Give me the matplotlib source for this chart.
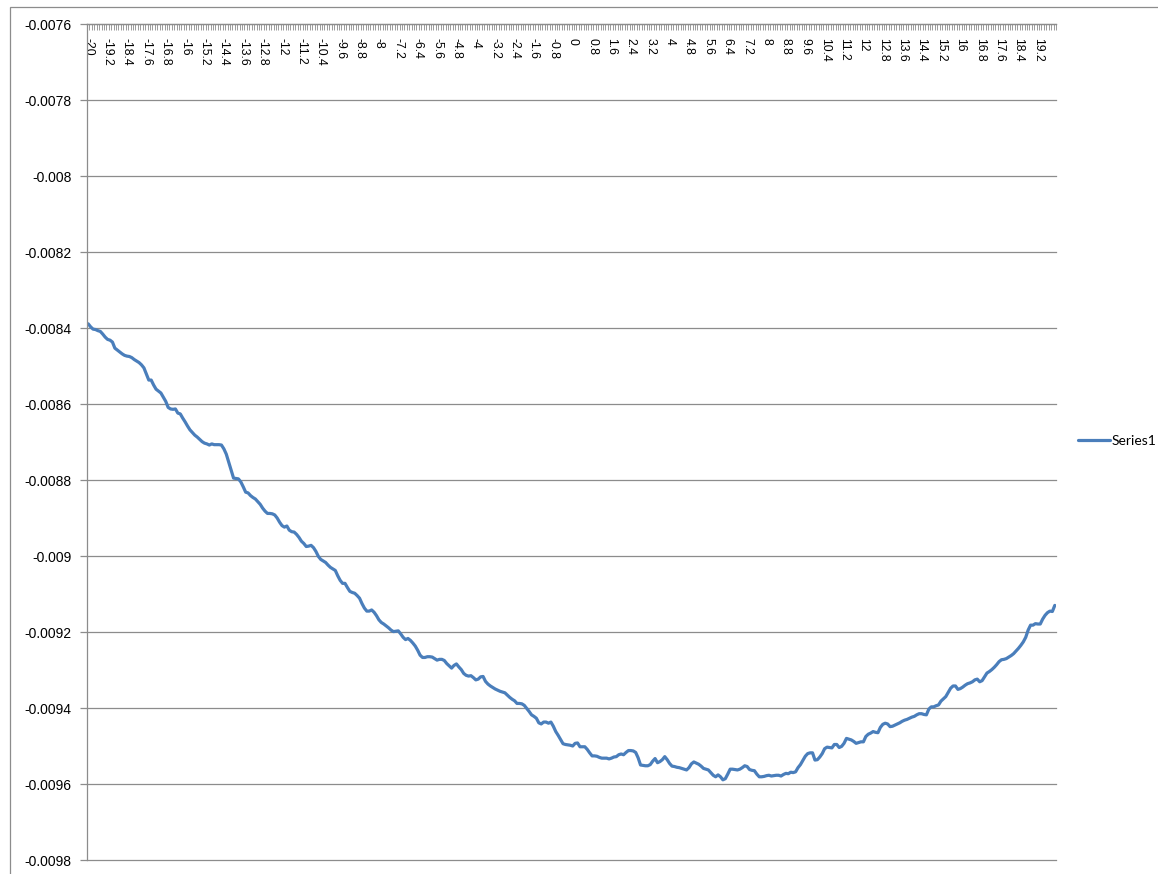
import numpy as np
import matplotlib
matplotlib.use('Agg')
import matplotlib.pyplot as plt
from matplotlib.patches import Rectangle

# Category axis: -20 .. 19.9 in steps of 0.1, label on every 8th category
categories = np.round(np.arange(-20, 20, 0.1), 1)
label_every = 8

y_ticks = [-0.0098, -0.0096, -0.0094, -0.0092, -0.009, -0.0088, -0.0086,
           -0.0084, -0.0082, -0.008, -0.0078, -0.0076]
y_tick_labels = ['-0.0098', '-0.0096', '-0.0094', '-0.0092', '-0.009', '-0.0088',
                 '-0.0086', '-0.0084', '-0.0082', '-0.008', '-0.0078', '-0.0076']

# Series1 values
series1 = [
    -0.008389, -0.008397, -0.008403, -0.008404, -0.008407, -0.008409, -0.008416, -0.008424, -0.008430, -0.008432,
    -0.008437, -0.008453, -0.008458, -0.008463, -0.008468, -0.008472, -0.008474, -0.008475, -0.008478, -0.008483,
    -0.008487, -0.008491, -0.008497, -0.008505, -0.008521, -0.008537, -0.008537, -0.008550, -0.008561, -0.008566,
    -0.008571, -0.008582, -0.008593, -0.008609, -0.008613, -0.008614, -0.008613, -0.008624, -0.008626, -0.008637,
    -0.008647, -0.008658, -0.008668, -0.008675, -0.008682, -0.008687, -0.008693, -0.008699, -0.008703, -0.008705,
    -0.008708, -0.008705, -0.008707, -0.008707, -0.008707, -0.008708, -0.008718, -0.008732, -0.008753, -0.008774,
    -0.008795, -0.008796, -0.008797, -0.008805, -0.008818, -0.008832, -0.008834, -0.008841, -0.008846, -0.008850,
    -0.008857, -0.008864, -0.008874, -0.008882, -0.008888, -0.008888, -0.008889, -0.008892, -0.008900, -0.008911,
    -0.008920, -0.008924, -0.008921, -0.008932, -0.008936, -0.008937, -0.008943, -0.008951, -0.008961, -0.008967,
    -0.008975, -0.008974, -0.008972, -0.008978, -0.008988, -0.009001, -0.009009, -0.009013, -0.009017, -0.009024,
    -0.009030, -0.009034, -0.009038, -0.009052, -0.009064, -0.009072, -0.009072, -0.009083, -0.009093, -0.009096,
    -0.009098, -0.009104, -0.009111, -0.009125, -0.009137, -0.009145, -0.009145, -0.009142, -0.009148, -0.009157,
    -0.009168, -0.009175, -0.009179, -0.009184, -0.009189, -0.009195, -0.009199, -0.009198, -0.009197, -0.009205,
    -0.009214, -0.009220, -0.009217, -0.009222, -0.009229, -0.009237, -0.009248, -0.009261, -0.009267, -0.009267,
    -0.009265, -0.009265, -0.009266, -0.009270, -0.009274, -0.009272, -0.009272, -0.009275, -0.009283, -0.009289,
    -0.009295, -0.009288, -0.009284, -0.009292, -0.009299, -0.009309, -0.009314, -0.009316, -0.009315, -0.009320,
    -0.009326, -0.009324, -0.009318, -0.009317, -0.009330, -0.009337, -0.009342, -0.009346, -0.009350, -0.009353,
    -0.009356, -0.009358, -0.009360, -0.009366, -0.009372, -0.009377, -0.009381, -0.009388, -0.009388, -0.009389,
    -0.009393, -0.009401, -0.009409, -0.009418, -0.009422, -0.009427, -0.009439, -0.009442, -0.009437, -0.009437,
    -0.009440, -0.009437, -0.009448, -0.009462, -0.009472, -0.009483, -0.009494, -0.009496, -0.009497, -0.009498,
    -0.009500, -0.009493, -0.009492, -0.009502, -0.009502, -0.009502, -0.009509, -0.009518, -0.009526, -0.009526,
    -0.009527, -0.009530, -0.009532, -0.009532, -0.009532, -0.009534, -0.009532, -0.009529, -0.009528, -0.009523,
    -0.009521, -0.009523, -0.009517, -0.009512, -0.009512, -0.009513, -0.009517, -0.009531, -0.009550, -0.009551,
    -0.009552, -0.009552, -0.009549, -0.009540, -0.009533, -0.009544, -0.009541, -0.009536, -0.009528, -0.009536,
    -0.009546, -0.009553, -0.009554, -0.009556, -0.009557, -0.009559, -0.009561, -0.009563, -0.009557, -0.009547,
    -0.009542, -0.009545, -0.009548, -0.009553, -0.009559, -0.009561, -0.009563, -0.009570, -0.009577, -0.009581,
    -0.009576, -0.009581, -0.009589, -0.009586, -0.009574, -0.009561, -0.009561, -0.009562, -0.009563, -0.009561,
    -0.009557, -0.009552, -0.009554, -0.009562, -0.009564, -0.009565, -0.009574, -0.009581, -0.009581, -0.009580,
    -0.009578, -0.009577, -0.009579, -0.009578, -0.009577, -0.009577, -0.009579, -0.009575, -0.009572, -0.009573,
    -0.009569, -0.009570, -0.009568, -0.009557, -0.009549, -0.009538, -0.009527, -0.009520, -0.009518, -0.009518,
    -0.009537, -0.009536, -0.009529, -0.009520, -0.009507, -0.009503, -0.009504, -0.009505, -0.009496, -0.009496,
    -0.009504, -0.009501, -0.009493, -0.009480, -0.009482, -0.009484, -0.009488, -0.009493, -0.009491, -0.009489,
    -0.009489, -0.009475, -0.009469, -0.009466, -0.009462, -0.009464, -0.009465, -0.009451, -0.009443, -0.009440,
    -0.009442, -0.009449, -0.009448, -0.009445, -0.009442, -0.009439, -0.009435, -0.009432, -0.009430, -0.009427,
    -0.009424, -0.009422, -0.009418, -0.009415, -0.009415, -0.009417, -0.009418, -0.009403, -0.009397, -0.009397,
    -0.009394, -0.009392, -0.009382, -0.009376, -0.009370, -0.009359, -0.009348, -0.009342, -0.009342, -0.009351,
    -0.009349, -0.009345, -0.009340, -0.009336, -0.009334, -0.009331, -0.009326, -0.009324, -0.009331, -0.009328,
    -0.009318, -0.009308, -0.009304, -0.009299, -0.009293, -0.009286, -0.009278, -0.009273, -0.009272, -0.009270,
    -0.009266, -0.009262, -0.009257, -0.009250, -0.009243, -0.009235, -0.009226, -0.009214, -0.009195, -0.009182,
    -0.009182, -0.009178, -0.009179, -0.009179, -0.009166, -0.009156, -0.009149, -0.009145, -0.009146, -0.009130,
]

plt.rcParams['font.family'] = ['Liberation Sans', 'DejaVu Sans']

fig = plt.figure(figsize=(11.58, 8.74), dpi=100)
ax = fig.add_axes([87 / 1158, 1 - 860 / 874, 969 / 1158, 836 / 874])

x = np.arange(len(categories))
ax.plot(x, series1, color='#4A7EBB', linewidth=2.3, label='Series1',
        solid_joinstyle='round', solid_capstyle='round')

ax.set_xlim(-0.5, len(categories) - 0.5)
ax.set_ylim(-0.0098, -0.0076)

# horizontal gridlines
ax.set_yticks(y_ticks)
ax.set_yticklabels(y_tick_labels)
ax.yaxis.grid(True, color='#8c8c8c', linewidth=0.9)
for gl in ax.get_ygridlines():
    gl.set_clip_on(False)
ax.set_axisbelow(True)
ax.tick_params(axis='y', direction='out', length=5, width=0.9, color='#8c8c8c',
               labelsize=10, pad=6)

# category axis crosses at the top (value 0 lies above the data)
ax.spines['bottom'].set_position(('data', -0.0076))
ax.spines['top'].set_visible(False)
ax.spines['right'].set_visible(False)
for s in ('bottom', 'left'):
    ax.spines[s].set_color('#8c8c8c')
    ax.spines[s].set_linewidth(0.9)

label_pos = x[::label_every]
ax.set_xticks(label_pos)
ax.set_xticklabels([f'{c:g}' for c in categories[::label_every]], rotation=-90)
ax.set_xticks(np.arange(len(categories) + 1) - 0.5, minor=True)
ax.tick_params(axis='x', which='major', length=0, labelsize=8.8, pad=10)
ax.tick_params(axis='x', which='minor', direction='out', length=4.5, width=0.6,
               color='#8c8c8c')

leg = ax.legend(loc='center left', bbox_to_anchor=(1078 / 1158, 1 - 441 / 874),
                bbox_transform=fig.transFigure, frameon=False, borderpad=0,
                borderaxespad=0, handlelength=2.3, handletextpad=0.1,
                prop={'family': 'Lato', 'size': 10})

# outer chart border (cropped on right and bottom)
fig.patches.append(Rectangle((10 / 1158, -0.05), 1.1, 1.05 - 7 / 874,
                             transform=fig.transFigure, fill=False,
                             edgecolor='#8c8c8c', linewidth=0.9))

fig.savefig('out.png', dpi=100)
